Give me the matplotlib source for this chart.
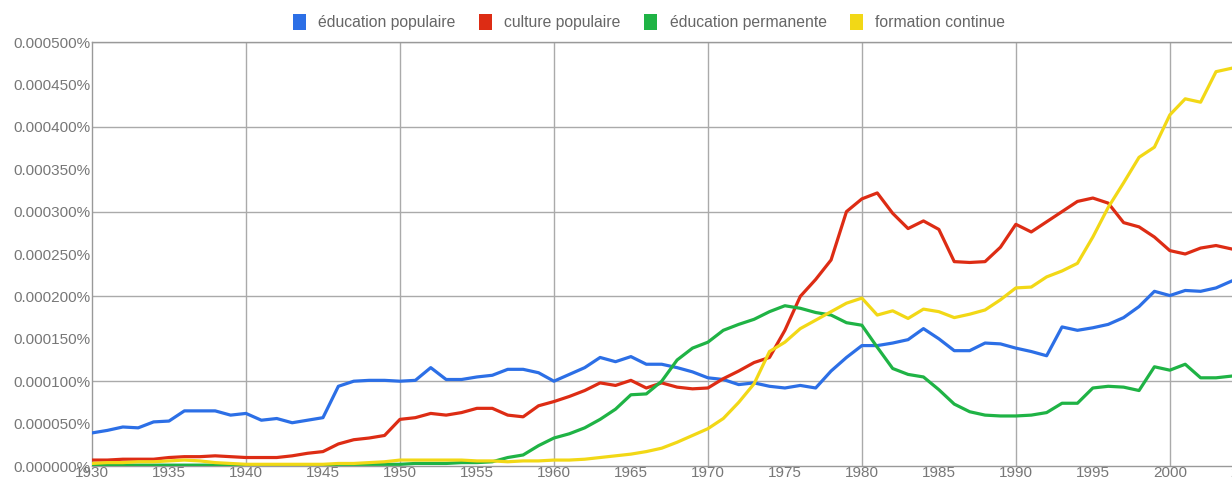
import matplotlib.pyplot as plt
import numpy as np
from matplotlib.patches import Patch
from matplotlib.ticker import FuncFormatter, MultipleLocator

plt.rcParams["font.family"] = ["Liberation Sans", "DejaVu Sans"]

# values in units of 1e-6 percent (500 -> 0.000500%)
years = list(range(1930, 2005))

education_populaire = [
    39, 42, 46, 45, 52, 53, 65, 65, 65, 60,
    62, 54, 56, 51, 54, 57, 94, 100, 101, 101,
    100, 101, 116, 102, 102, 105, 107, 114, 114, 110,
    100, 108, 116, 128, 123, 129, 120, 120, 116, 111,
    104, 102, 96, 98, 94, 92, 95, 92, 112, 128,
    142, 142, 145, 149, 162, 150, 136, 136, 145, 144,
    139, 135, 130, 164, 160, 163, 167, 175, 188, 206,
    201, 207, 206, 210, 218,
]
culture_populaire = [
    7, 7, 8, 8, 8, 10, 11, 11, 12, 11,
    10, 10, 10, 12, 15, 17, 26, 31, 33, 36,
    55, 57, 62, 60, 63, 68, 68, 60, 58, 71,
    76, 82, 89, 98, 95, 101, 92, 98, 93, 91,
    92, 103, 112, 122, 128, 160, 200, 220, 243, 300,
    315, 322, 298, 280, 289, 279, 241, 240, 241, 258,
    285, 276, 288, 300, 312, 316, 310, 287, 282, 270,
    254, 250, 257, 260, 256,
]
education_permanente = [
    1, 1, 1, 1, 1, 1, 1, 1, 1, 1,
    1, 1, 1, 1, 1, 1, 2, 2, 2, 2,
    2, 3, 3, 3, 4, 4, 5, 10, 13, 24,
    33, 38, 45, 55, 67, 84, 85, 100, 125, 139,
    146, 160, 167, 173, 182, 189, 186, 181, 178, 169,
    166, 140, 115, 108, 105, 90, 73, 64, 60, 59,
    59, 60, 63, 74, 74, 92, 94, 93, 89, 117,
    113, 120, 104, 104, 106,
]
formation_continue = [
    3, 4, 4, 5, 5, 6, 7, 6, 4, 3,
    2, 2, 2, 2, 2, 2, 3, 3, 4, 5,
    7, 7, 7, 7, 7, 6, 6, 5, 6, 6,
    7, 7, 8, 10, 12, 14, 17, 21, 28, 36,
    44, 56, 75, 97, 135, 146, 162, 172, 182, 192,
    198, 178, 183, 174, 185, 182, 175, 179, 184, 196,
    210, 211, 223, 230, 239, 270, 305, 334, 364, 376,
    414, 433, 429, 465, 469,
]

labels = ["éducation populaire", "culture populaire", "éducation permanente", "formation continue"]
series = [education_populaire, culture_populaire, education_permanente, formation_continue]
colors = ["#2c6fe6", "#dd2c14", "#1fb345", "#f2d816"]

fig = plt.figure(figsize=(12.32, 4.8), dpi=100)
# axes run past the right edge, as in the cropped original
ax = fig.add_axes([92 / 1232, 14 / 480, 1201 / 1232, 424 / 480])

x = np.array(years)
for vals, col in zip(series, colors):
    ax.plot(x, np.array(vals) * 1e-6, color=col, lw=2.3, solid_joinstyle="round", zorder=3)

ax.set_xlim(1930, 2008)
ax.set_ylim(0, 500e-6)

ax.xaxis.set_major_locator(MultipleLocator(5))
ax.yaxis.set_major_locator(MultipleLocator(50e-6))
ax.yaxis.set_major_formatter(FuncFormatter(lambda v, _: f"{v:.6f}%"))

for gx in range(1940, 2009, 10):
    ax.axvline(gx, color="#aaaaaa", lw=1, zorder=1)
for gy in range(100, 501, 100):
    ax.axhline(gy * 1e-6, color="#aaaaaa", lw=1, zorder=1)

for side in ["top", "left", "bottom"]:
    ax.spines[side].set_color("#999999")
    ax.spines[side].set_linewidth(1)
ax.spines["right"].set_visible(False)

ax.tick_params(axis="both", length=0, labelsize=11, labelcolor="#777777")
ax.tick_params(axis="y", pad=1)
ax.tick_params(axis="x", pad=0)

handles = [Patch(facecolor=c, edgecolor="none") for c in colors]
fig.legend(
    handles, labels, ncol=4, loc="center", bbox_to_anchor=(0.527, 0.954),
    frameon=False, fontsize=11.3, labelcolor="#666666",
    handlelength=0.8, handleheight=1.2, handletextpad=0.8, columnspacing=1.5,
)

fig.savefig("out.png", dpi=100)
plt.close(fig)
